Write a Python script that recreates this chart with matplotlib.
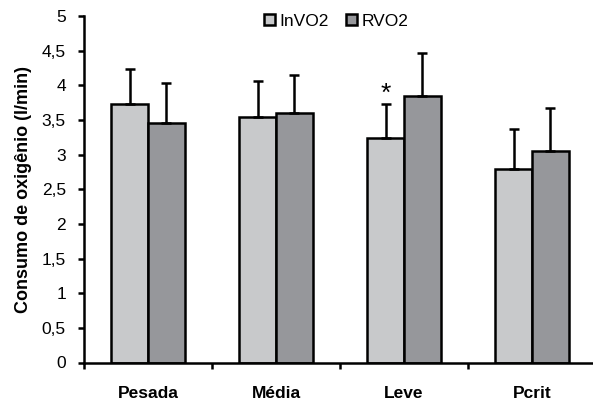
import numpy as np
import matplotlib
matplotlib.use("Agg")
import matplotlib.pyplot as plt

categories = ["Pesada", "Média", "Leve", "Pcrit"]
invo2 = [3.73, 3.54, 3.24, 2.79]
invo2_err = [0.50, 0.52, 0.49, 0.58]
rvo2 = [3.46, 3.60, 3.85, 3.05]
rvo2_err = [0.57, 0.55, 0.61, 0.62]
yticks = [0, 0.5, 1, 1.5, 2, 2.5, 3, 3.5, 4, 4.5, 5]
ytick_labels = ["0", "0,5", "1", "1,5", "2", "2,5", "3", "3,5", "4", "4,5", "5"]

plt.rcParams['font.family'] = ['Liberation Sans', 'DejaVu Sans']

fig = plt.figure(figsize=(5.93, 4.0), dpi=100)
ax = fig.add_axes([84/593, 37.5/400, 512/593, 346.5/400])

x = np.arange(len(categories))
w = 0.287
light = "#c8c9cb"
dark = "#96979b"
lw = 1.8

b1 = ax.bar(x - w/2, invo2, w, color=light, edgecolor="black", linewidth=lw, label="InVO2", zorder=2)
b2 = ax.bar(x + w/2, rvo2, w, color=dark, edgecolor="black", linewidth=lw, label="RVO2", zorder=2)

# upper error bars only
ax.errorbar(x - w/2, invo2, yerr=[np.zeros(4), invo2_err], fmt="none", ecolor="black",
            elinewidth=lw, capsize=3.8, capthick=lw, zorder=3)
ax.errorbar(x + w/2, rvo2, yerr=[np.zeros(4), rvo2_err], fmt="none", ecolor="black",
            elinewidth=lw, capsize=3.8, capthick=lw, zorder=3)

# significance mark on Leve InVO2
ax.text(2 - w/2, invo2[2] + invo2_err[2] + 0.15, "*", ha="center", va="center", fontsize=19)

ax.set_xlim(-0.5, 3.5)
ax.set_ylim(0, 5)
ax.set_yticks(yticks)
ax.set_yticklabels(ytick_labels, fontsize=12.5)
ax.set_xticks(x)
ax.set_xticklabels(categories, fontsize=12.5, fontweight="bold")
ax.set_xticks(np.arange(-0.5, 4.0, 1.0), minor=True)
ax.tick_params(axis="x", which="major", length=0, pad=17)
ax.tick_params(axis="x", which="minor", length=4, width=lw, direction="out")
ax.tick_params(axis="y", length=4, width=lw, pad=9)
ax.spines["top"].set_visible(False)
ax.spines["right"].set_visible(False)
ax.spines["left"].set_linewidth(lw)
ax.spines["bottom"].set_linewidth(lw)
ax.set_ylabel("Consumo de oxigênio (l/min)", fontsize=13, fontweight="bold", labelpad=7)

fig.legend(handles=[b1, b2], loc="center", bbox_to_anchor=(0.567, 0.9475), ncol=2,
           frameon=False, fontsize=12.5, handlelength=0.65, handleheight=0.65,
           handletextpad=0.25, columnspacing=1.0)

fig.savefig("out.png", dpi=100)
